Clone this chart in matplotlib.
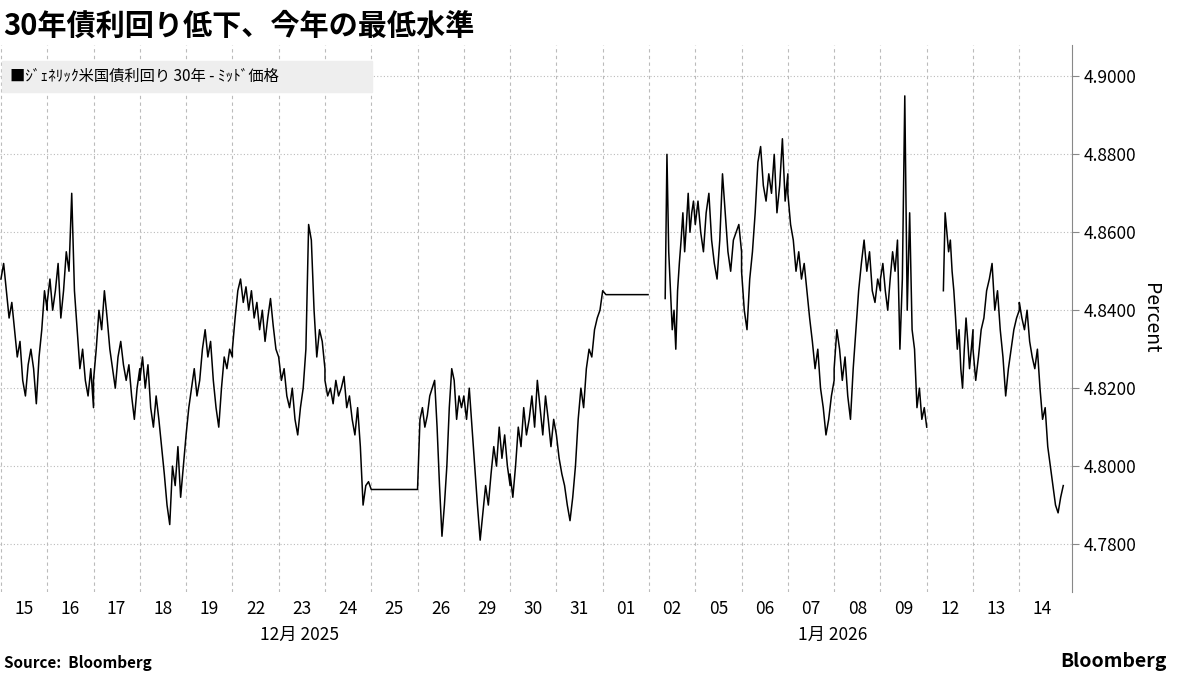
import numpy as np
import matplotlib
matplotlib.use("Agg")
import matplotlib.pyplot as plt

plt.rcParams['font.family'] = ['Noto Sans CJK JP', 'DejaVu Sans']

day_labels = ["15","16","17","18","19","22","23","24","25","26","29","30","31","01","02","05","06","07","08","09","12","13","14"]
day_values = {
"15":[4.848,4.852,4.845,4.838,4.842,4.835,4.828,4.832,4.822,4.818,4.826,4.830,4.825,4.816,4.828,4.835,4.845,4.840],
"16":[4.842,4.848,4.840,4.845,4.852,4.838,4.845,4.855,4.850,4.870,4.845,4.835,4.825,4.830,4.822,4.818,4.825,4.815],
"17":[4.822,4.830,4.840,4.835,4.845,4.838,4.830,4.825,4.820,4.828,4.832,4.826,4.822,4.826,4.818,4.812,4.820,4.825],
"18":[4.822,4.828,4.820,4.826,4.815,4.810,4.818,4.812,4.805,4.798,4.790,4.785,4.800,4.795,4.805,4.792,4.800,4.808],
"19":[4.808,4.815,4.820,4.825,4.818,4.822,4.830,4.835,4.828,4.832,4.822,4.815,4.810,4.820,4.828,4.825,4.830,4.828],
"22":[4.830,4.838,4.845,4.848,4.842,4.846,4.840,4.845,4.838,4.842,4.835,4.840,4.832,4.838,4.843,4.836,4.830,4.828],
"23":[4.828,4.822,4.825,4.818,4.815,4.820,4.812,4.808,4.815,4.820,4.830,4.862,4.858,4.840,4.828,4.835,4.832,4.825],
"24":[4.822,4.818,4.820,4.816,4.822,4.818,4.820,4.823,4.815,4.818,4.812,4.808,4.815,4.805,4.790,4.795,4.796,4.794],
"25":[4.794,4.794],
"26":[4.794,4.812,4.815,4.810,4.813,4.818,4.820,4.822,4.810,4.795,4.782,4.790,4.800,4.815,4.825,4.822,4.812,4.818,4.815],
"29":[4.818,4.812,4.820,4.810,4.800,4.790,4.781,4.788,4.795,4.790,4.798,4.805,4.800,4.810,4.802,4.808,4.800,4.795],
"30":[4.798,4.792,4.800,4.810,4.805,4.815,4.808,4.812,4.818,4.810,4.822,4.815,4.808,4.818,4.812,4.805,4.812,4.808],
"31":[4.808,4.802,4.798,4.795,4.790,4.786,4.792,4.800,4.812,4.820,4.815,4.825,4.830,4.828,4.835,4.838,4.840,4.845],
"01":[4.844,4.844],
"02":[4.843,4.880,4.855,4.845,4.835,4.840,4.830,4.845,4.852,4.858,4.865,4.855,4.862,4.870,4.860,4.865,4.868,4.862],
"05":[4.862,4.868,4.860,4.855,4.865,4.870,4.858,4.852,4.848,4.858,4.875,4.865,4.855,4.850,4.858,4.860,4.862,4.855],
"06":[4.850,4.840,4.835,4.848,4.855,4.865,4.878,4.882,4.872,4.868,4.875,4.870,4.880,4.865,4.872,4.884,4.868,4.875],
"07":[4.870,4.862,4.858,4.850,4.855,4.848,4.852,4.845,4.838,4.832,4.825,4.830,4.820,4.815,4.808,4.812,4.818,4.822],
"08":[4.825,4.835,4.830,4.822,4.828,4.818,4.812,4.825,4.835,4.845,4.852,4.858,4.850,4.855,4.845,4.842,4.848,4.845],
"09":[4.848,4.852,4.845,4.840,4.848,4.855,4.850,4.858,4.830,4.848,4.895,4.840,4.865,4.835,4.830,4.815,4.820,4.812,4.815,4.810],
"12":[4.845,4.865,4.860,4.855,4.858,4.850,4.845,4.838,4.830,4.835,4.825,4.820,4.830,4.838,4.832,4.825,4.830,4.835],
"13":[4.830,4.822,4.828,4.835,4.838,4.845,4.848,4.852,4.840,4.845,4.835,4.828,4.818,4.825,4.830,4.835,4.838,4.840],
"14":[4.842,4.838,4.835,4.840,4.832,4.828,4.825,4.830,4.820,4.812,4.815,4.805,4.800,4.795,4.790,4.788,4.792,4.795],
}
spans = {"25":(-0.5,0.5),"26":(-0.5,0.45),"01":(-0.43,0.48),"02":(-0.15,0.5),"09":(-0.5,0.5),"12":(-0.14,0.5),"14":(-0.5,0.45)}
gap_after = {"01","09"}

xs, ys = [], []
for i, d in enumerate(day_labels):
    a, b = spans.get(d, (-0.5, 0.5))
    v = day_values[d]
    xs.extend(np.linspace(i + a, i + b, len(v)))
    ys.extend(v)
    if d in gap_after:
        xs.append(np.nan); ys.append(np.nan)

fig = plt.figure(figsize=(12, 6.75), dpi=100)
ax = fig.add_axes([0.0, 0.123, 0.893, 0.81])
ax.plot(xs, ys, color='black', lw=1.1)
ax.set_xlim(-0.52, 22.63)
ax.set_ylim(4.7677, 4.908)
yt = [4.78, 4.80, 4.82, 4.84, 4.86, 4.88, 4.90]
ax.set_yticks(yt)
ax.set_yticklabels([f"{t:.4f}" for t in yt], fontsize=12.5)
ax.yaxis.tick_right()
ax.yaxis.set_label_position("right")
ax.set_ylabel("Percent", fontsize=14, rotation=270, labelpad=18)
ax.set_xticks(range(len(day_labels)))
ax.set_xticklabels(day_labels, fontsize=12.5)
ax.tick_params(axis='x', length=0, pad=6)
ax.tick_params(axis='y', length=5, color='#888888')
for s in ['top', 'left', 'bottom']:
    ax.spines[s].set_visible(False)
ax.spines['right'].set_color('#888888')
for t in yt:
    ax.axhline(t, color='#bbbbbb', ls=(0, (1, 2)), lw=0.8, zorder=0)
for i in range(len(day_labels)):
    ax.axvline(i - 0.5, color='#bbbbbb', ls=(0, (3, 3)), lw=0.8, zorder=0)

fig.text(0.25, 0.052, "12月 2025", ha='center', fontsize=12.5)
fig.text(0.694, 0.052, "1月 2026", ha='center', fontsize=12.5)
fig.text(0.003, 0.962, "30年債利回り低下、今年の最低水準", fontsize=21, fontweight='bold', va='center')
fig.patches.append(plt.Rectangle((0.002, 0.864), 0.308, 0.046, transform=fig.transFigure, color='#eeeeee', zorder=0))
fig.text(0.008, 0.887, "■ｼﾞｪﾈﾘｯｸ米国債利回り 30年 - ﾐｯﾄﾞ価格", fontsize=11, va='center')
fig.text(0.003, 0.018, "Source:  Bloomberg", fontsize=11, fontweight='bold', va='center')
fig.text(0.972, 0.02, "Bloomberg", fontsize=14, fontweight='bold', ha='right', va='center')
fig.savefig("out.png", dpi=100)
